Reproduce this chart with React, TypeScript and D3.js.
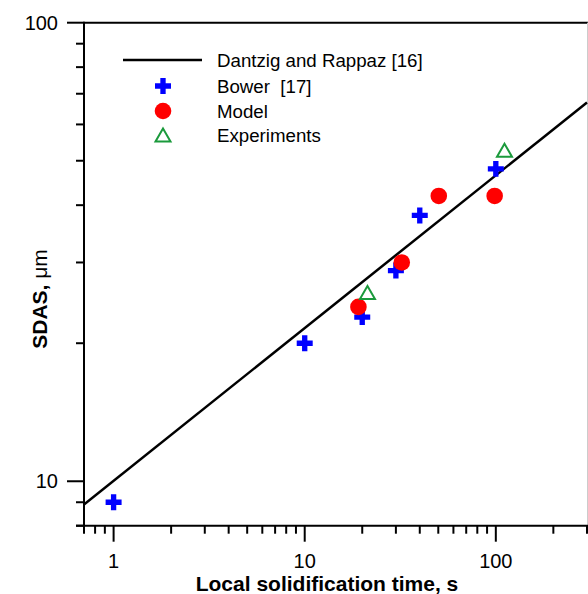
import React, { useRef, useEffect } from 'react';
import * as d3 from 'd3';

// Dantzig and Rappaz fit, end points read at the plot edges
const fitTime = [0.7, 300];
const fitSdas = [8.9, 67];

// Bower [17]
const bowerTime = [1, 10, 20, 30, 40, 100];
const bowerSdas = [9.0, 20.0, 22.8, 28.8, 38.0, 48.0];

// Model
const modelTime = [19.1, 32.2, 50.3, 98.6];
const modelSdas = [24.0, 30.0, 41.9, 41.9];

// Experiments
const expTime = [21.3, 111];
const expSdas = [25.8, 52.7];

const xMajor = [1, 10, 100];
const xMinor = [0.7, 0.8, 0.9, 2, 3, 4, 5, 6, 7, 8, 9, 20, 30, 40, 50, 60, 70, 80, 90, 200, 300];
const yMajor = [10, 100];
const yMinor = [8, 9, 20, 30, 40, 50, 60, 70, 80, 90];

const legendLabels = ['Dantzig and Rappaz [16]', 'Bower  [17]', 'Model', 'Experiments'];

const BLUE = '#0000ff';
const RED = '#ff0000';
const GREEN = '#1b9a3c';
const FONT = 'Arial, "Liberation Sans", sans-serif';

export default function App() {
  const ref = useRef<SVGSVGElement>(null);
  const width = 588;
  const height = 594;

  useEffect(() => {
    const svg = d3.select(ref.current);
    svg.selectAll('*').remove();

    const x = d3.scaleLog().domain([0.7, 300]).range([84, 587]);
    const y = d3.scaleLog().domain([8, 100]).range([525.7, 22.7]);

    const g = svg.append('g');

    // frame
    g.append('line').attr('x1', 84).attr('x2', 588).attr('y1', y(100)).attr('y2', y(100))
      .attr('stroke', '#000').attr('stroke-width', 2);
    g.append('line').attr('x1', 587.5).attr('x2', 587.5).attr('y1', y(100)).attr('y2', y(8))
      .attr('stroke', '#ccc').attr('stroke-width', 1);

    // fit line
    const line = d3.line<number>().x(i => x(fitTime[i])).y(i => y(fitSdas[i]));
    g.append('path').attr('d', line([0, 1])).attr('fill', 'none')
      .attr('stroke', '#000').attr('stroke-width', 2.5);

    // axes
    const yAxis = g.append('g');
    yAxis.append('line').attr('x1', 84).attr('x2', 84).attr('y1', y(100) - 1).attr('y2', y(8) + 1)
      .attr('stroke', '#000').attr('stroke-width', 2);
    yAxis.selectAll('line.minor').data(yMinor).enter().append('line')
      .attr('x1', 76).attr('x2', 84).attr('y1', d => y(d)).attr('y2', d => y(d))
      .attr('stroke', '#000').attr('stroke-width', 2);
    yAxis.selectAll('line.major').data(yMajor).enter().append('line')
      .attr('x1', 67).attr('x2', 84).attr('y1', d => y(d)).attr('y2', d => y(d))
      .attr('stroke', '#000').attr('stroke-width', 2);
    yAxis.selectAll('text').data(yMajor).enter().append('text')
      .attr('x', 58).attr('y', d => y(d)).attr('dy', '0.36em')
      .attr('text-anchor', 'end').attr('font-family', FONT).attr('font-size', 20)
      .text(d => String(d));

    const xAxis = g.append('g');
    xAxis.append('line').attr('x1', 76).attr('x2', 588).attr('y1', y(8)).attr('y2', y(8))
      .attr('stroke', '#000').attr('stroke-width', 2);
    xAxis.selectAll('line.minor').data(xMinor).enter().append('line')
      .attr('x1', d => x(d)).attr('x2', d => x(d)).attr('y1', y(8)).attr('y2', y(8) + 8)
      .attr('stroke', '#000').attr('stroke-width', 2);
    xAxis.selectAll('line.major').data(xMajor).enter().append('line')
      .attr('x1', d => x(d)).attr('x2', d => x(d)).attr('y1', y(8)).attr('y2', y(8) + 16)
      .attr('stroke', '#000').attr('stroke-width', 2);
    xAxis.selectAll('text').data(xMajor).enter().append('text')
      .attr('x', d => x(d)).attr('y', 568)
      .attr('text-anchor', 'middle').attr('font-family', FONT).attr('font-size', 20)
      .text(d => String(d));

    // titles
    g.append('text').attr('x', 327).attr('y', 591).attr('text-anchor', 'middle')
      .attr('font-family', FONT).attr('font-size', 21).attr('font-weight', 'bold')
      .text('Local solidification time, s');
    const yt = g.append('text').attr('transform', 'translate(47,299) rotate(-90)').attr('text-anchor', 'middle')
      .attr('font-family', FONT).attr('font-size', 21);
    yt.append('tspan').attr('font-weight', 'bold').text('SDAS, ');
    yt.append('tspan').text('\u03bcm');

    // markers
    const cross = d3.symbol(d3.symbolCross, 142)();
    const tri = 'M0,-6.5L7.5,6.5L-7.5,6.5Z';

    g.selectAll('path.bower').data(bowerTime).enter().append('path')
      .attr('d', cross).attr('fill', BLUE)
      .attr('transform', (d, i) => `translate(${x(d)},${y(bowerSdas[i])})`);
    g.selectAll('circle.model').data(modelTime).enter().append('circle')
      .attr('cx', d => x(d)).attr('cy', (d, i) => y(modelSdas[i])).attr('r', 8.3).attr('fill', RED);
    g.selectAll('path.exp').data(expTime).enter().append('path')
      .attr('d', tri).attr('fill', 'none').attr('stroke', GREEN).attr('stroke-width', 2)
      .attr('transform', (d, i) => `translate(${x(d)},${y(expSdas[i])})`);

    // legend
    const lg = g.append('g');
    const rows = [60, 86, 111, 135];
    lg.append('line').attr('x1', 123).attr('x2', 202).attr('y1', rows[0]).attr('y2', rows[0])
      .attr('stroke', '#000').attr('stroke-width', 2.5);
    lg.append('path').attr('d', cross).attr('fill', BLUE).attr('transform', `translate(163,${rows[1]})`);
    lg.append('circle').attr('cx', 163).attr('cy', rows[2]).attr('r', 8.3).attr('fill', RED);
    lg.append('path').attr('d', tri).attr('fill', 'none').attr('stroke', GREEN).attr('stroke-width', 2)
      .attr('transform', `translate(163,${rows[3]})`);
    lg.selectAll('text').data(legendLabels).enter().append('text')
      .attr('x', 217).attr('y', (d, i) => rows[i]).attr('dy', '0.36em')
      .attr('font-family', FONT).attr('font-size', 18.7)
      .style('white-space', 'pre')
      .text(d => d);
  }, []);

  return (
    <svg ref={ref} width={width} height={height}
      style={{ position: 'absolute', left: 0, top: 0, background: '#fff' }} />
  );
}
